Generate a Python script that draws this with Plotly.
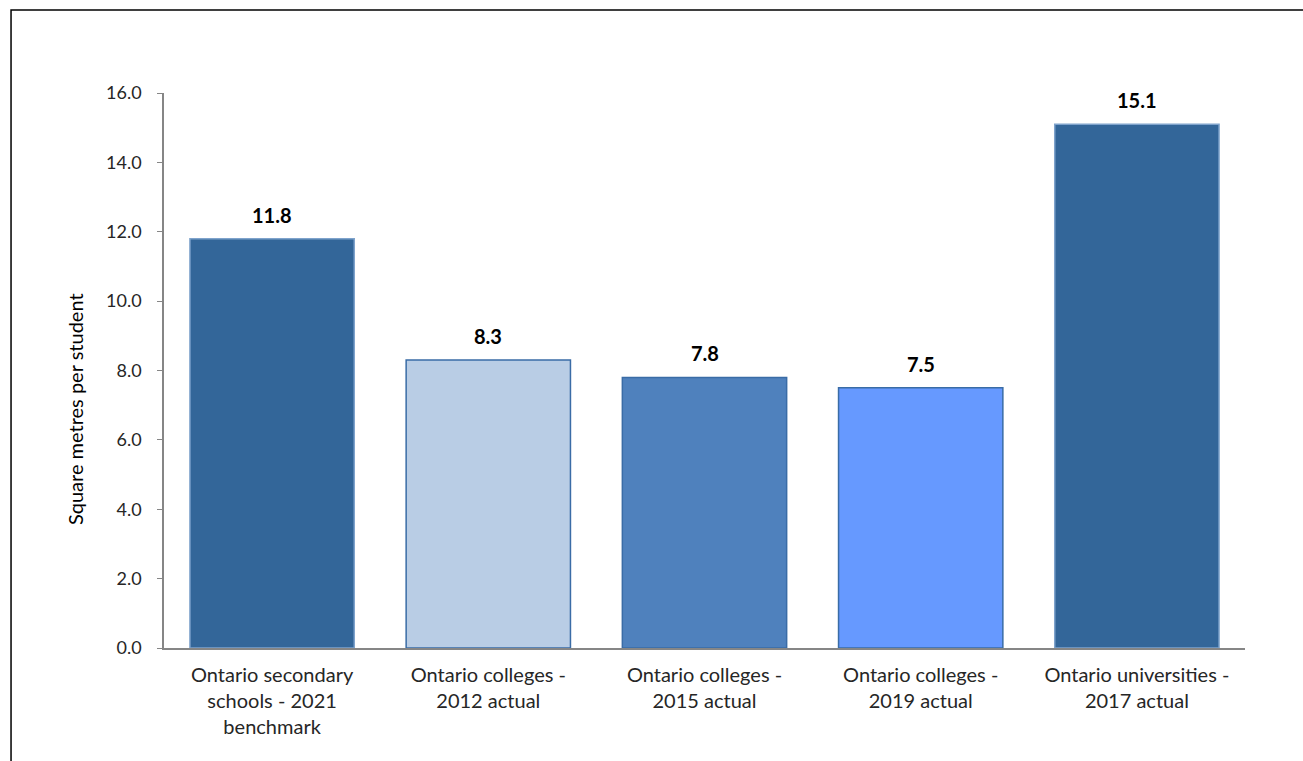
import plotly.graph_objects as go

# Space per student by institution type
categories = [
    "Ontario secondary<br>schools - 2021<br>benchmark",
    "Ontario colleges -<br>2012 actual",
    "Ontario colleges -<br>2015 actual",
    "Ontario colleges -<br>2019 actual",
    "Ontario universities -<br>2017 actual",
]
values = [11.8, 8.3, 7.8, 7.5, 15.1]
bar_colors = ["#336699", "#B9CDE5", "#4F81BD", "#6699FF", "#336699"]
edge_colors = ["#7FA3CC", "#3A6CA6", "#3A6CA6", "#3A6CA6", "#7FA3CC"]
y_ticks = [0, 2, 4, 6, 8, 10, 12, 14, 16]
y_tick_labels = ["0.0", "2.0", "4.0", "6.0", "8.0", "10.0", "12.0", "14.0", "16.0"]

FONT = "Lato, 'Open Sans', sans-serif"

fig = go.Figure(
    go.Bar(
        x=categories,
        y=values,
        marker=dict(color=bar_colors, line=dict(color=edge_colors, width=1.5)),
        hoverinfo="skip",
    )
)

# Value labels above each bar
for cat, v in zip(categories, values):
    fig.add_annotation(
        x=cat,
        y=v,
        text=f"<b>{v:.1f}</b>",
        showarrow=False,
        yanchor="bottom",
        yshift=10,
        font=dict(family=FONT, size=20, color="#000000"),
    )

fig.update_layout(
    width=1303,
    height=761,
    margin=dict(l=164, r=58, t=93, b=113),
    paper_bgcolor="white",
    plot_bgcolor="white",
    bargap=0.24,
    showlegend=False,
    font=dict(family=FONT, color="#262626"),
)

fig.update_xaxes(
    showline=True,
    linecolor="#868686",
    linewidth=2,
    ticks="",
    showgrid=False,
    tickfont=dict(family=FONT, size=20, color="#262626"),
    ticklabelstandoff=8,
)

fig.update_yaxes(
    range=[0, 16],
    tickvals=y_ticks,
    ticktext=y_tick_labels,
    showline=True,
    linecolor="#868686",
    linewidth=1.5,
    ticks="outside",
    ticklen=5,
    tickcolor="#868686",
    showgrid=False,
    zeroline=False,
    tickfont=dict(family=FONT, size=18, color="#262626"),
    ticklabelstandoff=12,
)

# Y axis title
fig.add_annotation(
    xref="paper",
    yref="paper",
    x=-0.0823,
    y=0.4306,
    text="Square metres per student",
    textangle=-90,
    showarrow=False,
    xanchor="center",
    yanchor="middle",
    font=dict(family=FONT, size=20, color="#000000"),
)

# Frame around the chart area (top and left edges visible)
fig.add_shape(
    type="rect",
    xref="paper",
    yref="paper",
    x0=-0.1415,
    x1=1.2,
    y0=-0.4,
    y1=1.1495,
    line=dict(color="#000000", width=1.5),
    fillcolor="rgba(0,0,0,0)",
    layer="above",
)

fig.write_html("out.html")
